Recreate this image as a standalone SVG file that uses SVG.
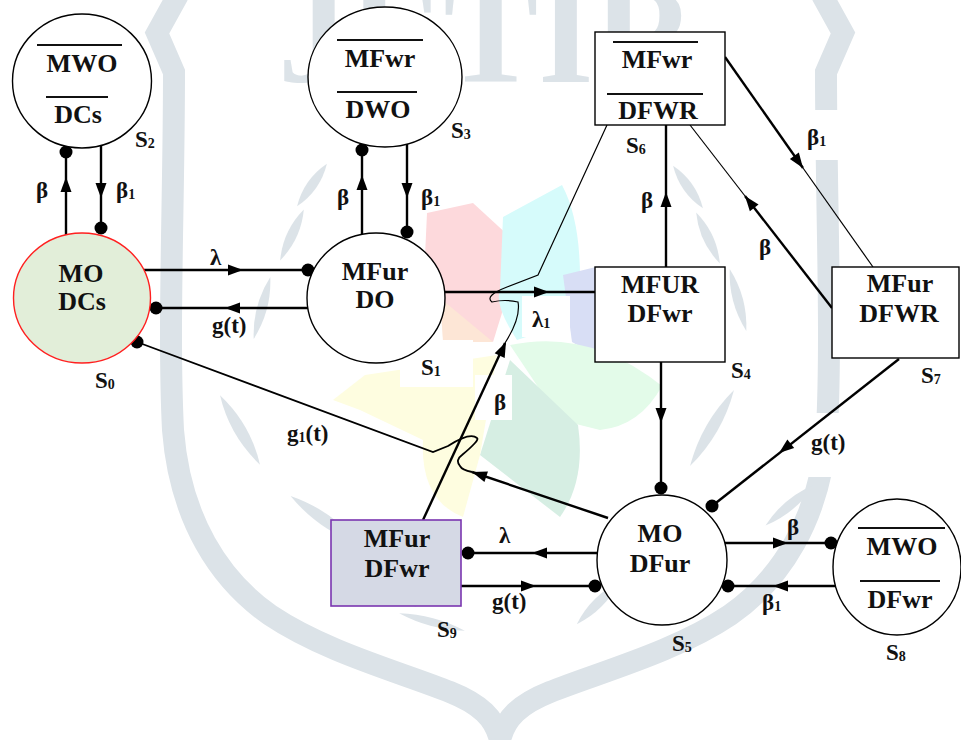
<svg xmlns="http://www.w3.org/2000/svg" xmlns:xlink="http://www.w3.org/1999/xlink" width="961" height="740" viewBox="0 0 961 740">
  <defs>
    <style>
      .node{fill:#fff;stroke:#000;stroke-width:1.4}
      .t{font-size:26px;fill:#111;text-anchor:middle}
      .lbl{font-size:23px;fill:#111}
      .sub{font-size:14px}
      .ln{stroke:#000;stroke-width:2.4;fill:none}
      .thin{stroke:#000;stroke-width:1.2;fill:none}
      .ov{stroke:#111;stroke-width:2}
      .wm{fill:#dce3e8}
      .band{fill:none;stroke:#dce3e8;stroke-width:22;stroke-linejoin:miter}
      .blank{fill:#fff}
    </style>
    <path id="ah" d="M0,0 L-15,-5.5 L-15,5.5 Z" fill="#000"/>
    <path id="leaf" d="M-1,0 Q0,-1 1,0 Q0,1 -1,0 Z"/>
  </defs>

  <rect width="961" height="740" fill="#fff"/>

  <!-- faint background emblem -->
  <g id="emblem">
    <text x="487" y="82" font-family="'Liberation Serif', 'Times New Roman', serif" font-weight="bold" font-size="142" fill="#dce3e8" text-anchor="middle">JETIR</text>
    <path class="band" d="M178,-5 L157,33 L174,72 C174,200 168,330 173,430 C180,520 220,580 270,615 C325,652 400,672 450,692 C480,704 495,718 500,740"/>
    <path class="band" d="M822,-5 L843,33 L826,72 C826,200 832,330 827,430 C820,520 780,580 730,615 C675,652 600,672 550,692 C520,704 505,718 500,740"/>
    <g class="wm">
      <use xlink:href="#leaf" transform="translate(240,430) rotate(60) scale(40,12)"/>
      <use xlink:href="#leaf" transform="translate(325,520) rotate(35) scale(42,12)"/>
      <use xlink:href="#leaf" transform="translate(385,590) rotate(28) scale(36,10)"/>
      <use xlink:href="#leaf" transform="translate(432,622) rotate(15) scale(34,8)"/>
      <use xlink:href="#leaf" transform="translate(312,185) rotate(-55) scale(26,10)"/>
      <use xlink:href="#leaf" transform="translate(292,235) rotate(-65) scale(28,10)"/>
      <use xlink:href="#leaf" transform="translate(262,308) rotate(-75) scale(32,10)"/>
      <use xlink:href="#leaf" transform="translate(712,428) rotate(-60) scale(44,12)"/>
      <use xlink:href="#leaf" transform="translate(790,505) rotate(-40) scale(32,10)"/>
      <use xlink:href="#leaf" transform="translate(598,603) rotate(-45) scale(30,10)"/>
      <use xlink:href="#leaf" transform="translate(688,187) rotate(55) scale(26,10)"/>
      <use xlink:href="#leaf" transform="translate(708,238) rotate(65) scale(28,10)"/>
      <use xlink:href="#leaf" transform="translate(738,300) rotate(75) scale(32,10)"/>
    </g>
    <!-- coloured petals -->
    <path fill="#fdd9dc" d="M427,213 L473,203 L522,248 L493,342 L423,300 Z"/>
    <path fill="#fde6d6" d="M440,298 L493,342 L443,342 Z"/>
    <path fill="#d6fbfb" d="M503,217 L562,185 Q586,230 578,320 L517,340 Q494,305 500,290 Z"/>
    <path fill="#d8def5" d="M563,275 L600,266 L615,366 L572,342 Z"/>
    <path fill="#e3fbe9" d="M510,345 Q590,328 662,386 Q640,426 600,430 L560,420 Z"/>
    <path fill="#d6eee3" d="M510,360 L578,425 Q586,480 560,517 L480,455 Z"/>
    <path fill="#fefde0" d="M333,400 L365,375 L497,355 L480,455 L463,517 Q420,500 423,440 L360,410 Z"/>
    <!-- label backing -->
    <rect class="blank" x="400" y="340" width="73" height="47"/>
    <rect class="blank" x="475" y="375" width="37" height="45"/>
    <rect class="blank" x="522" y="296" width="48" height="41"/>
    <rect class="blank" x="267" y="405" width="70" height="68"/>
    <rect class="blank" x="790" y="110" width="70" height="50"/>
    <rect class="blank" x="797" y="413" width="73" height="64"/>
  </g>

  <!-- connectors -->
  <g id="connectors" font-family="'Liberation Serif', 'Times New Roman', serif" font-weight="bold">
    <!-- S0 / S2 -->
    <line class="ln" x1="66" y1="235" x2="66" y2="152"/>
    <use xlink:href="#ah" transform="translate(66,177) rotate(-90)"/>
    <circle cx="66" cy="152" r="6.5"/>
    <line class="ln" x1="101" y1="145" x2="101" y2="228"/>
    <use xlink:href="#ah" transform="translate(101,198) rotate(90)"/>
    <circle cx="101" cy="228" r="6.5"/>
    <text class="lbl" x="36" y="198">β</text>
    <text class="lbl" x="116" y="198">β<tspan class="sub" dy="1">1</tspan></text>

    <!-- S0 / S1 -->
    <line class="ln" x1="144" y1="270" x2="308" y2="270"/>
    <use xlink:href="#ah" transform="translate(243,270)"/>
    <circle cx="308" cy="270" r="6.5"/>
    <line class="ln" x1="308" y1="308" x2="156" y2="308"/>
    <use xlink:href="#ah" transform="translate(225,308) rotate(180)"/>
    <circle cx="156" cy="308" r="6.5"/>
    <text class="lbl" x="210" y="265">λ</text>
    <text class="lbl" x="212" y="333">g(t)</text>

    <!-- S1 / S3 -->
    <line class="ln" x1="362" y1="234" x2="362" y2="150"/>
    <use xlink:href="#ah" transform="translate(362,175) rotate(-90)"/>
    <circle cx="362" cy="150" r="6.5"/>
    <line class="ln" x1="407" y1="144" x2="407" y2="232"/>
    <use xlink:href="#ah" transform="translate(407,198) rotate(90)"/>
    <circle cx="407" cy="232" r="6.5"/>
    <text class="lbl" x="337" y="205">β</text>
    <text class="lbl" x="421" y="205">β<tspan class="sub" dy="1">1</tspan></text>

    <!-- S1 to S4 -->
    <line class="ln" x1="445" y1="292" x2="595" y2="292"/>
    <use xlink:href="#ah" transform="translate(549,292)"/>
    <text class="lbl" x="532" y="327">λ<tspan class="sub" dy="1">1</tspan></text>

    <!-- S4 to S6 -->
    <line class="ln" x1="666" y1="267" x2="666" y2="125"/>
    <use xlink:href="#ah" transform="translate(666,192) rotate(-90)"/>
    <text class="lbl" x="641" y="208">β</text>

    <!-- S6 to S7 -->
    <line class="ln" x1="725" y1="57" x2="803" y2="168"/>
    <line class="thin" x1="803" y1="168" x2="873" y2="267"/>
    <use xlink:href="#ah" transform="translate(803,168) rotate(54.8)"/>
    <text class="lbl" x="807" y="145">β<tspan class="sub" dy="1">1</tspan></text>

    <!-- S7 to S6 -->
    <line class="ln" x1="832" y1="308" x2="745" y2="196"/>
    <line class="thin" x1="745" y1="196" x2="690" y2="125"/>
    <use xlink:href="#ah" transform="translate(745,196) rotate(232.2)"/>
    <text class="lbl" x="759" y="255">β</text>

    <!-- S7 to S5 -->
    <line class="ln" x1="899" y1="359" x2="712" y2="506"/>
    <use xlink:href="#ah" transform="translate(779,453) rotate(141.8)"/>
    <circle cx="712" cy="506" r="6.5"/>
    <text class="lbl" x="811" y="450">g(t)</text>

    <!-- S4 to S5 -->
    <line class="ln" x1="661" y1="362" x2="661" y2="488"/>
    <use xlink:href="#ah" transform="translate(661,423) rotate(90)"/>
    <circle cx="661" cy="488" r="6.5"/>

    <!-- S9 to S6 -->
    <line class="ln" x1="423" y1="520" x2="505" y2="343"/>
    <use xlink:href="#ah" transform="translate(506,342) rotate(-65.1)"/>
    <path class="thin" d="M505,343 Q521,318 518,302 Q505,299 492,302 Q484,296 507,287 L538,275 L607,125"/>
    <text class="lbl" x="494" y="410">β</text>

    <!-- S5 to S0 -->
    <line class="ln" x1="608" y1="518" x2="472" y2="472"/>
    <use xlink:href="#ah" transform="translate(472,472) rotate(198.7)"/>
    <path class="ln" style="stroke-width:1.8" d="M472,472 Q462,470 460,466 Q455,460 462,455 Q480,440 477,438 Q470,432 448,446 L433,452 L137,342"/>
    <circle cx="137" cy="342" r="6.5"/>
    <text class="lbl" x="287" y="441">g<tspan class="sub" dy="1">1</tspan><tspan dy="-1">(t)</tspan></text>

    <!-- S5 / S9 -->
    <line class="ln" x1="597" y1="553" x2="468" y2="553"/>
    <use xlink:href="#ah" transform="translate(532,553) rotate(180)"/>
    <circle cx="468" cy="553" r="6.5"/>
    <line class="ln" x1="461" y1="586" x2="595" y2="586"/>
    <use xlink:href="#ah" transform="translate(536,586)"/>
    <circle cx="595" cy="586" r="6.5"/>
    <text class="lbl" x="499" y="543">λ</text>
    <text class="lbl" x="492" y="609">g(t)</text>

    <!-- S5 / S8 -->
    <line class="ln" x1="725" y1="543" x2="831" y2="543"/>
    <use xlink:href="#ah" transform="translate(788,543)"/>
    <circle cx="831" cy="543" r="6.5"/>
    <line class="ln" x1="836" y1="586" x2="728" y2="586"/>
    <use xlink:href="#ah" transform="translate(773,586) rotate(180)"/>
    <circle cx="728" cy="586" r="6.5"/>
    <text class="lbl" x="787" y="535">β</text>
    <text class="lbl" x="762" y="610">β<tspan class="sub" dy="1">1</tspan></text>
  </g>

  <!-- states -->
  <g id="states" font-family="'Liberation Serif', 'Times New Roman', serif" font-weight="bold">
    <g id="S0">
      <ellipse cx="82" cy="298" rx="68.5" ry="65" fill="#e2eed9" stroke="#ff2020" stroke-width="1.4"/>
      <text class="t" x="81" y="282">MO</text>
      <text class="t" x="82" y="310">DCs</text>
      <text class="lbl" x="95" y="388">S<tspan class="sub" dy="1">0</tspan></text>
    </g>

    <g id="S1">
      <ellipse class="node" cx="376" cy="298" rx="69" ry="65"/>
      <text class="t" x="375" y="280">MFur</text>
      <text class="t" x="375" y="308">DO</text>
      <text class="lbl" x="421" y="375">S<tspan class="sub" dy="1">1</tspan></text>
    </g>

    <g id="S2">
      <ellipse class="node" cx="82" cy="81" rx="69.5" ry="67"/>
      <line class="ov" x1="37" y1="45" x2="122" y2="45"/>
      <text class="t" x="82" y="72">MWO</text>
      <line class="ov" x1="46" y1="97" x2="108" y2="97"/>
      <text class="t" x="78" y="123">DCs</text>
      <text class="lbl" x="135" y="147">S<tspan class="sub" dy="1">2</tspan></text>
    </g>

    <g id="S3">
      <ellipse class="node" cx="385" cy="77" rx="77" ry="70"/>
      <line class="ov" x1="337" y1="40" x2="423" y2="40"/>
      <text class="t" x="380" y="67">MFwr</text>
      <line class="ov" x1="337" y1="92" x2="417" y2="92"/>
      <text class="t" x="378" y="118">DWO</text>
      <text class="lbl" x="451" y="138">S<tspan class="sub" dy="1">3</tspan></text>
    </g>

    <g id="S4">
      <rect class="node" x="595" y="267" width="130" height="95"/>
      <text class="t" x="660" y="293">MFUR</text>
      <text class="t" x="660" y="322">DFwr</text>
      <text class="lbl" x="731" y="378">S<tspan class="sub" dy="1">4</tspan></text>
    </g>

    <g id="S5">
      <ellipse class="node" cx="662" cy="560" rx="65" ry="65"/>
      <text class="t" x="660" y="542">MO</text>
      <text class="t" x="660" y="572">DFur</text>
      <text class="lbl" x="672" y="651">S<tspan class="sub" dy="1">5</tspan></text>
    </g>

    <g id="S6">
      <rect class="node" x="595" y="32" width="130" height="93"/>
      <line class="ov" x1="613" y1="42" x2="698" y2="42"/>
      <text class="t" x="657" y="68">MFwr</text>
      <line class="ov" x1="607" y1="94" x2="703" y2="94"/>
      <text class="t" x="658" y="119">DFWR</text>
      <text class="lbl" x="626" y="153">S<tspan class="sub" dy="1">6</tspan></text>
    </g>

    <g id="S7">
      <rect class="node" x="832" y="267" width="127" height="91"/>
      <text class="t" x="900" y="292">MFur</text>
      <text class="t" x="899" y="322">DFWR</text>
      <text class="lbl" x="921" y="383">S<tspan class="sub" dy="1">7</tspan></text>
    </g>

    <g id="S8">
      <ellipse class="node" cx="897" cy="567" rx="64" ry="68"/>
      <line class="ov" x1="858" y1="528" x2="945" y2="528"/>
      <text class="t" x="902" y="555">MWO</text>
      <line class="ov" x1="860" y1="581" x2="940" y2="581"/>
      <text class="t" x="900" y="608">DFwr</text>
      <text class="lbl" x="886" y="660">S<tspan class="sub" dy="1">8</tspan></text>
    </g>

    <g id="S9">
      <rect x="331" y="520" width="130" height="86" fill="#d5d9e5" stroke="#7a35b0" stroke-width="1.6"/>
      <text class="t" x="397" y="547">MFur</text>
      <text class="t" x="397" y="577">DFwr</text>
      <text class="lbl" x="437" y="637">S<tspan class="sub" dy="1">9</tspan></text>
    </g>
  </g>
</svg>
